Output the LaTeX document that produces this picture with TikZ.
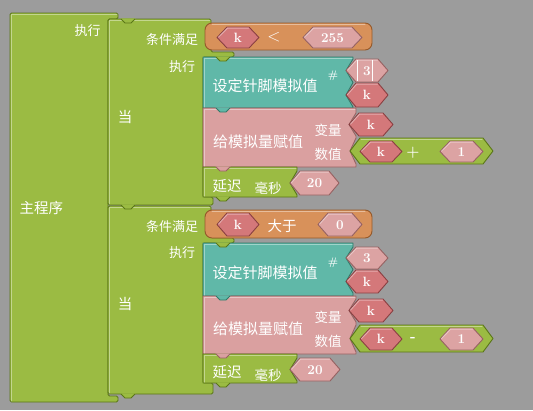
\documentclass[tikz,border=0pt]{standalone}
\usepackage{fontspec}
\newfontfamily\cjk{Noto Sans CJK SC}
\definecolor{bgc}{HTML}{9C9C9C}
\definecolor{grn}{HTML}{9BBB43}
\definecolor{grnd}{HTML}{5A7618}
\definecolor{org}{HTML}{D8915A}
\definecolor{orgd}{HTML}{94592A}
\definecolor{tea}{HTML}{60B8A8}
\definecolor{tead}{HTML}{327868}
\definecolor{pnk}{HTML}{DAA0A0}
\definecolor{pnkd}{HTML}{986262}
\definecolor{vrc}{HTML}{D4787A}
\definecolor{vrcd}{HTML}{8A4042}
\definecolor{num}{HTML}{DCA3A3}
\definecolor{numd}{HTML}{966262}
\newcommand\hexv[7]{%
  \pgfmathsetmacro\hyy{(#3+#5)/2}%
  \draw[#6] (#2,\hyy) -- (#2+10,#3) -- (#4-10,#3) -- (#4,\hyy) -- (#4-10,#5) -- (#2+10,#5) -- cycle;
  \draw[hl] (#2+1.5,\hyy-0.5) -- (#2+10.5,#3+1.2) -- (#4-10.5,#3+1.2);
  \node[valtxt] (#1) at ({(#2+#4)/2},\hyy+0.3) {#7};}
\newcommand\tabat[4]{%
  \fill[#3] (#1+12.5,#2-0.7) -- (#1+17,#2+4) -- (#1+23,#2+4) -- (#1+27.5,#2-0.7) -- cycle;
  \draw[#4, line width=0.9pt, line join=round] (#1+13,#2) -- (#1+17,#2+4) -- (#1+23,#2+4) -- (#1+27,#2);}
\begin{document}
\begin{tikzpicture}[x=1pt,y=-1pt,
  blk/.style={line width=0.9pt, line join=round},
  gb/.style={blk, fill=grn, draw=grnd},
  ob/.style={blk, fill=org, draw=orgd},
  tb/.style={blk, fill=tea, draw=tead},
  pb/.style={blk, fill=pnk, draw=pnkd},
  vh/.style={blk, fill=vrc, draw=vrcd},
  nh/.style={blk, fill=num, draw=numd},
  hl/.style={white, opacity=0.4, line width=1pt, line cap=round},
  valtxt/.style={text=white, inner sep=0pt, font=\bfseries\fontsize{13.5}{13.5}\selectfont},
  lsm/.style={text=white, inner sep=0pt, font=\cjk\fontsize{13}{13}\selectfont},
  lmd/.style={text=white, inner sep=0pt, font=\cjk\fontsize{13.5}{13.5}\selectfont},
  lbg/.style={text=white, inner sep=0pt, font=\cjk\fontsize{14.5}{14.5}\selectfont},
  lxl/.style={text=white, inner sep=0pt, font=\cjk\fontsize{15}{15}\selectfont},
  sym/.style={text=white, inner sep=0pt, font=\bfseries\fontsize{15}{15}\selectfont}]
\useasboundingbox (0,0) rectangle (533,410);
\fill[bgc] (0,0) rectangle (533,410);

% main program block
\draw[gb, rounded corners=1.5] (10,13) -- (118,13) -- (118,19) -- (108,19) -- (108,396) -- (118,396) -- (118,402) -- (10,402) -- cycle;
\draw[hl] (11.5,401) -- (11.5,14.5) -- (117,14.5);

% while blocks
\draw[gb, rounded corners=1.5] (108,19) -- (211,19) -- (211,52) -- (234,52) -- (234,57) -- (203,57) -- (203,197) -- (213,197) -- (213,205) -- (108,205) -- cycle;
\draw[gb, rounded corners=1.5] (108,206) -- (211,206) -- (211,238) -- (234,238) -- (234,243) -- (203,243) -- (203,383) -- (213,383) -- (213,394) -- (108,394) -- cycle;
\draw[hl] (109.5,204) -- (109.5,20.5) -- (210,20.5);
\draw[hl] (109.5,393) -- (109.5,207.5) -- (210,207.5);

% statement blocks, first loop
\draw[tb] (203,57) -- (353,57) -- (353,59) -- (346,70.5) -- (353,82.5) -- (346,95) -- (353,107) -- (353,108) -- (203,108) -- cycle;
\draw[pb] (203,108) -- (356,108) -- (356,113) -- (349,124.5) -- (356,136) -- (356,138) -- (350,151) -- (356,164) -- (356,167) -- (203,167) -- cycle;
\draw[gb] (203,167) -- (297,167) -- (297,171) -- (290,183) -- (297,195) -- (297,197) -- (203,197) -- cycle;
\draw[hl] (204.5,107) -- (204.5,58.5) -- (352,58.5);
\draw[hl] (204.5,166) -- (204.5,109.5) -- (355,109.5);
\draw[hl] (204.5,196) -- (204.5,168.5) -- (296,168.5);

% statement blocks, second loop
\draw[tb] (203,243) -- (353,243) -- (353,247) -- (346,258) -- (353,269.5) -- (346,281.5) -- (353,293) -- (353,296) -- (203,296) -- cycle;
\draw[pb] (203,296) -- (356,296) -- (356,299) -- (349,310.5) -- (356,322) -- (356,325) -- (350,338.5) -- (356,352) -- (356,354) -- (203,354) -- cycle;
\draw[gb] (203,354) -- (297,354) -- (297,358) -- (290,369.5) -- (297,381) -- (297,383) -- (203,383) -- cycle;
\draw[hl] (204.5,295) -- (204.5,244.5) -- (352,244.5);
\draw[hl] (204.5,353) -- (204.5,297.5) -- (355,297.5);
\draw[hl] (204.5,382) -- (204.5,355.5) -- (296,355.5);

% connection tabs
\tabat{108}{19}{grn}{grnd}
\tabat{203}{57}{grn}{grnd}
\tabat{203}{108}{tea}{tead}
\tabat{203}{167}{pnk}{pnkd}
\tabat{203}{197}{grn}{grnd}
\tabat{108}{205}{grn}{grnd}
\tabat{203}{243}{grn}{grnd}
\tabat{203}{296}{tea}{tead}
\tabat{203}{354}{pnk}{pnkd}
\tabat{203}{383}{grn}{grnd}
\tabat{108}{394}{grn}{grnd}

% conditions
\draw[ob, rounded corners=7] (205,23) rectangle (372,50);
\draw[hl] (212,24.5) -- (365,24.5);
\draw[ob, rounded corners=7] (205,210) rectangle (372,238);
\draw[hl] (212,211.5) -- (365,211.5);
\hexv{k1}{217}{27}{259}{48}{vh}{k}
\hexv{n255}{303}{27}{362}{48}{nh}{255}
\node[sym, font=\fontsize{16}{16}\selectfont] (lt) at (274,37.5) {$<$};
\hexv{k5}{217}{213}{259}{236}{vh}{k}
\hexv{n0}{318}{213}{362}{236}{nh}{0}
\node[lbg] (gt) at (282,226) {大于};

% first loop values
\hexv{n3a}{346}{59}{388}{82}{nh}{3}
\draw[white, line width=0.8pt] (357,60) -- (357,81) (372,60) -- (372,81);
\hexv{k2}{346}{83}{388}{107}{vh}{k}
\hexv{k3}{349}{113}{393}{136}{vh}{k}
\draw[gb] (350,151) -- (360,138) -- (483,138) -- (493,151) -- (483,164) -- (360,164) -- cycle;
\draw[hl] (361,139.5) -- (482,139.5);
\hexv{k4}{360}{141}{402}{162}{vh}{k}
\hexv{n1a}{440}{141}{483}{162}{nh}{1}
\node[sym] (plus) at (413,153) {+};
\hexv{n20a}{290}{171}{339}{195}{nh}{20}

% second loop values
\hexv{n3b}{346}{247}{388}{269}{nh}{3}
\hexv{k6}{346}{270}{388}{293}{vh}{k}
\hexv{k7}{349}{299}{393}{322}{vh}{k}
\draw[gb] (350,338.5) -- (360,325) -- (483,325) -- (493,338.5) -- (483,352) -- (360,352) -- cycle;
\draw[hl] (361,326.5) -- (482,326.5);
\hexv{k8}{360}{328}{402}{350}{vh}{k}
\hexv{n1b}{440}{328}{483}{350}{nh}{1}
\node[sym] (minus) at (413,339.5) {-};
\hexv{n20b}{290}{358}{340}{381}{nh}{20}

% labels
\node[lsm] (m1) at (87.5,31) {执行};
\node[lbg] (m2) at (41.5,208) {主程序};
\node[lbg] (w1) at (125,117) {当};
\node[lsm] (c1) at (172,40) {条件满足};
\node[lsm] (e1) at (182,67) {执行};
\node[lxl] (s1) at (265,86) {设定针脚模拟值};
\node[valtxt, font=\bfseries\fontsize{11}{11}\selectfont] (h1) at (333,76) {\#};
\node[lxl] (a1) at (258,142) {给模拟量赋值};
\node[lmd] (v1) at (328,130) {变量};
\node[lmd] (u1) at (328,154) {数值};
\node[lbg] (y1) at (227,186) {延迟};
\node[lmd] (ms1) at (268,188) {毫秒};

\node[lbg] (w2) at (125,304) {当};
\node[lsm] (c2) at (172,227) {条件满足};
\node[lsm] (e2) at (182,253) {执行};
\node[lxl] (s2) at (265,273) {设定针脚模拟值};
\node[valtxt, font=\bfseries\fontsize{11}{11}\selectfont] (h2) at (333,263) {\#};
\node[lxl] (a2) at (258,329) {给模拟量赋值};
\node[lmd] (v2) at (328,317) {变量};
\node[lmd] (u2) at (328,341) {数值};
\node[lbg] (y2) at (227,372) {延迟};
\node[lmd] (ms2) at (268,375) {毫秒};
\end{tikzpicture}
\end{document}
